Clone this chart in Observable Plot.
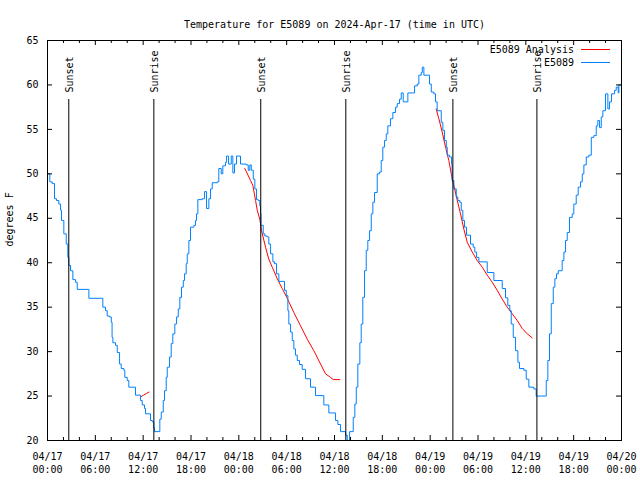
<!DOCTYPE html>
<html><head><meta charset="utf-8">
<script src="https://cdn.jsdelivr.net/npm/d3@7"></script>
<script src="https://cdn.jsdelivr.net/npm/@observablehq/plot@0.6"></script>
<style>html,body{margin:0;padding:0;background:#fff}</style>
</head><body><div id="chart"></div>
<script>
// ---- Data (hours since 2024-04-17 00:00 UTC, degrees F) ----
const chartTitle = "Temperature for E5089 on 2024-Apr-17 (time in UTC)";
const yLabel = "degrees F";
const stationName = "E5089";
const analysisName = "E5089 Analysis";

const stationHours = [0.00,0.29,0.59,0.88,1.13,1.42,1.64,1.76,2.05,2.35,2.55,2.68,2.89,3.18,3.52,3.73,5.19,6.94,7.28,7.49,7.78,8.00,8.10,8.20,8.53,8.75,9.04,9.25,9.58,9.70,10.00,10.20,11.04,11.67,11.88,12.17,12.30,12.92,13.14,13.34,13.43,14.09,14.27,14.52,14.68,14.89,15.02,15.31,15.52,15.72,15.97,16.19,16.40,16.60,16.81,17.03,17.19,17.40,17.53,17.73,17.94,18.36,18.57,18.69,18.86,19.41,19.70,19.95,20.24,20.45,20.66,21.29,21.49,21.79,21.99,22.33,22.46,22.71,23.05,23.25,23.46,23.71,24.21,24.93,25.18,25.38,25.56,25.81,26.01,26.22,26.43,26.63,26.72,26.78,27.06,27.26,27.56,27.76,27.98,28.27,28.48,28.73,29.02,29.73,29.95,30.15,30.27,30.49,30.70,30.90,31.11,31.33,31.61,31.95,32.37,32.99,33.62,34.66,35.29,36.13,36.42,36.76,37.39,37.60,37.89,38.35,38.55,38.73,38.93,39.18,39.35,39.55,39.77,39.98,40.18,40.40,40.61,40.81,41.02,41.36,41.65,41.86,42.06,42.28,42.49,42.69,43.03,43.32,43.66,43.87,44.16,44.37,44.62,45.20,46.04,46.38,46.58,46.88,47.01,47.21,47.92,48.14,48.46,48.67,48.88,49.39,49.59,49.80,50.02,50.14,50.43,50.68,50.75,50.97,51.27,51.47,51.72,51.90,52.10,52.31,52.56,53.06,53.40,53.60,53.82,54.11,55.16,55.99,57.04,57.45,57.74,57.99,58.17,58.42,58.71,59.00,59.21,59.75,60.05,60.38,61.00,61.30,62.56,62.76,62.97,63.19,63.44,63.64,63.85,64.07,64.56,64.77,64.98,65.19,65.48,65.82,66.02,66.32,66.57,66.86,67.08,67.28,67.58,67.90,68.21,68.53,68.83,69.03,69.25,69.46,69.66,70.00,70.29,70.50,70.75,71.13,71.34,71.59,71.67,72.00];
const stationTemps = [50.0,49.1,48.9,47.2,47.0,46.6,45.9,44.75,43.25,42.1,40.6,39.7,39.1,38.1,37.8,37.0,36.0,35.0,34.6,34.0,33.9,33.3,31.6,31.0,30.7,29.9,28.6,28.1,27.9,27.1,26.75,26.0,25.1,24.5,24.0,23.6,23.0,22.25,22.1,21.4,21.0,22.4,23.2,24.5,25.6,27.1,28.25,29.4,30.9,32.0,33.1,33.9,34.8,36.1,37.25,38.0,38.75,39.9,41.0,42.5,44.0,44.2,44.75,45.5,47.1,47.2,48.0,46.1,47.2,48.3,49.0,49.1,50.6,50.0,50.9,51.3,52.0,51.1,52.0,50.1,51.1,52.0,51.1,51.0,50.4,51.0,50.4,49.4,48.3,47.1,47.0,46.4,45.5,44.2,43.25,43.0,42.9,42.1,41.0,40.1,39.9,38.75,37.9,36.9,36.3,34.6,33.1,32.2,31.25,30.3,29.6,29.0,28.55,28.0,26.95,26.0,25.05,24.0,23.1,22.25,21.8,21.0,20.6,20.0,21.0,22.6,24.1,26.0,28.6,31.0,33.1,36.1,39.1,41.4,42.5,43.6,45.5,46.8,47.9,50.0,50.2,51.5,53.0,53.75,54.5,55.4,56.2,56.9,57.5,57.9,58.4,59.1,58.1,59.1,59.9,60.1,61.1,61.4,62.0,61.1,60.1,59.2,59.0,58.1,57.1,55.8,54.9,53.75,53.0,52.1,51.9,51.1,49.25,48.3,47.4,47.0,46.8,45.9,44.75,44.0,43.1,42.1,41.75,41.2,40.6,40.1,38.9,38.0,37.1,36.05,35.2,34.6,33.1,31.6,30.1,28.8,28.1,27.9,26.9,26.0,25.8,25.0,26.75,29.0,32.0,35.4,37.25,38.2,38.75,39.1,40.25,41.2,42.5,43.4,45.1,45.5,46.6,47.6,48.5,49.1,50.0,51.0,51.9,52.1,54.1,54.3,55.4,56.0,55.2,56.4,57.1,59.0,57.3,58.1,59.0,59.4,59.75,59.1,60.0,60.0];

const analysisHours1 = [11.67,12.05,12.42,12.74];
const analysisTemps1 = [24.9,25.1,25.3,25.45];
const analysisHours2 = [24.75,25.47,25.76,26.10,26.31,26.63,26.85,27.35,27.76,28.19,28.82,29.44,30.07,30.90,31.74,32.58,33.41,34.25,34.88,35.50,35.84,36.67];
const analysisTemps2 = [50.6,49.25,48.7,47.0,45.9,44.9,43.6,41.75,40.4,39.5,38.2,37.1,36.0,34.4,32.9,31.4,30.1,28.6,27.5,27.1,26.85,26.85];
const analysisHours3 = [48.76,49.09,49.51,49.93,50.34,50.77,50.97,51.40,51.81,52.22,52.65,53.28,53.90,54.53,55.16,55.79,56.41,57.04,57.67,58.30,58.92,59.55,60.18,60.80];
const analysisTemps3 = [57.3,56.2,54.7,53.0,51.5,49.4,48.7,47.0,45.5,43.8,42.3,41.2,40.25,39.5,38.6,37.8,36.9,35.9,35.0,34.25,33.5,32.6,32.0,31.55];

const sunHours = [2.67,13.34,26.75,37.42,50.85,61.39];
const sunLabels = ["Sunset","Sunrise","Sunset","Sunrise","Sunset","Sunrise"];

const yTicks = [20,25,30,35,40,45,50,55,60,65];
const xMajorHours = [0,6,12,18,24,30,36,42,48,54,60,66,72];
const xMinorHours = [2,4,8,10,14,16,20,22,26,28,32,34,38,40,44,46,50,52,56,58,62,64,68,70];

// ---- Build tables ----
const t0 = Date.UTC(2024, 3, 17, 0, 0);
const toDate = h => new Date(t0 + h * 3600e3);
const station = stationHours.map((h, i) => ({time: toDate(h), temp: stationTemps[i]}));
const analysis = [
  ...analysisHours1.map((h, i) => ({time: toDate(h), temp: analysisTemps1[i], seg: 1})),
  ...analysisHours2.map((h, i) => ({time: toDate(h), temp: analysisTemps2[i], seg: 2})),
  ...analysisHours3.map((h, i) => ({time: toDate(h), temp: analysisTemps3[i], seg: 3}))
];
const sun = sunHours.map((h, i) => ({time: toDate(h), label: sunLabels[i]}));
const majorTicks = xMajorHours.map(toDate);
const minorTicks = xMinorHours.map(toDate);

const W = 640, H = 480, mL = 47, mR = 19, mT = 40, mB = 40;
const innerW = W - mL - mR, innerH = H - mT - mB;
const FONT = "DejaVu Sans Mono";

function legendMark(index, scales, values, dims) {
  const g = d3.create("svg:g").attr("font-family", FONT).attr("font-size", 10);
  const items = [{label: analysisName, color: "#ff0000"}, {label: stationName, color: "#0080ff"}];
  const right = dims.width - dims.marginRight;
  items.forEach((it, i) => {
    const y = dims.marginTop + 9.5 + i * 13;
    g.append("text").attr("x", right - 47).attr("y", y).attr("dy", "0.32em")
      .attr("text-anchor", "end").attr("fill", "black").text(it.label);
    g.append("line").attr("x1", right - 40).attr("x2", right - 11)
      .attr("y1", y).attr("y2", y).attr("stroke", it.color).attr("stroke-width", 1);
  });
  return g.node();
}

const chart = Plot.plot({
  width: W, height: H,
  marginLeft: mL, marginRight: mR, marginTop: mT, marginBottom: mB,
  style: {fontFamily: FONT, fontSize: "10px", background: "white", color: "black"},
  x: {type: "utc", domain: [toDate(0), toDate(72)], label: null},
  y: {domain: [20, 65], label: null},
  marks: [
    Plot.line(analysis, {x: "time", y: "temp", z: "seg", stroke: "#ff0000", strokeWidth: 1}),
    Plot.line(station, {x: "time", y: "temp", stroke: "#0080ff", strokeWidth: 1, curve: "step-after"}),
    Plot.ruleX(sun, {x: "time", insetTop: 59, stroke: "black", strokeWidth: 1}),
    Plot.text(sun, {x: "time", text: "label", frameAnchor: "top", dy: 52, dx: -3, rotate: -90, textAnchor: "start", fill: "black"}),
    Plot.frame({stroke: "black"}),
    // x ticks (inward, bottom and top)
    Plot.ruleX(majorTicks, {insetTop: innerH - 5, stroke: "black"}),
    Plot.ruleX(majorTicks, {insetBottom: innerH - 5, stroke: "black"}),
    Plot.ruleX(minorTicks, {insetTop: innerH - 3, stroke: "black"}),
    Plot.ruleX(minorTicks, {insetBottom: innerH - 3, stroke: "black"}),
    // y ticks (inward, left and right)
    Plot.ruleY(yTicks, {insetRight: innerW - 5, stroke: "black"}),
    Plot.ruleY(yTicks, {insetLeft: innerW - 5, stroke: "black"}),
    Plot.axisX({ticks: majorTicks, tickSize: 0, tickPadding: 10, lineHeight: 1.3, label: null,
      tickFormat: d3.utcFormat("%m/%d\n%H:%M"), fill: "black"}),
    Plot.axisY({ticks: yTicks, tickSize: 0, tickPadding: 9, label: null, fill: "black"}),
    Plot.text([chartTitle], {frameAnchor: "top", dy: -20, fill: "black"}),
    Plot.text([yLabel], {frameAnchor: "left", dx: -38, dy: 6, rotate: -90, fill: "black"}),
    legendMark
  ]
});
document.getElementById("chart").appendChild(chart);
</script>
</body></html>
